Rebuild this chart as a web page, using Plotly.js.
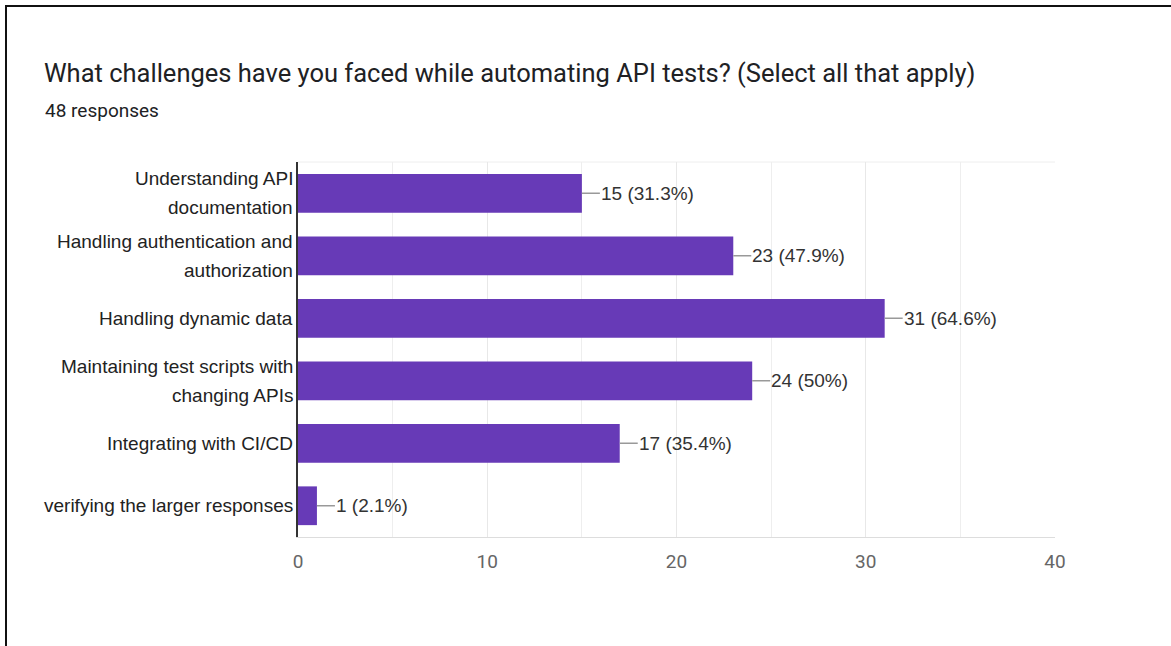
<!DOCTYPE html>
<html>
<head>
<meta charset="utf-8">
<script src="https://cdn.plot.ly/plotly-3.0.1.min.js"></script>
<style>
  html, body { margin: 0; padding: 0; background: #fff; }
  #wrap { position: relative; width: 1171px; height: 646px; overflow: hidden; }
  #chart { position: absolute; left: 0; top: 0; width: 1171px; height: 646px; }
  #frame { position: absolute; left: 5px; top: 5px; right: -4px; bottom: -4px;
           border-top: 2px solid #111; border-left: 2px solid #111; pointer-events: none; }
</style>
</head>
<body>
<div id="wrap">
  <div id="chart"></div>
  <div id="frame"></div>
</div>
<script>
// Survey question and response count
const questionTitle = "What challenges have you faced while automating API tests? (Select all that apply)";
const responseNote = "48 responses";

// Answer options (each entry holds the wrapped lines of one label)
const categories = [
  ["Understanding API", "documentation"],
  ["Handling authentication and", "authorization"],
  ["Handling dynamic data"],
  ["Maintaining test scripts with", "changing APIs"],
  ["Integrating with CI/CD"],
  ["verifying the larger responses"]
];
const counts = [15, 23, 31, 24, 17, 1];
const percents = ["31.3%", "47.9%", "64.6%", "50%", "35.4%", "2.1%"];

// X axis ticks
const tickValues = [0, 10, 20, 30, 40];
const tickLabels = ["0", "10", "20", "30", "40"];

const catKeys = categories.map(c => c.join(" "));
const barColor = "#673ab7";
const labelFont = { family: "Liberation Sans, Arial, sans-serif", size: 19, color: "#222222" };
const valueFont = { family: "Liberation Sans, Arial, sans-serif", size: 19, color: "#333333" };

const trace = {
  type: "bar",
  orientation: "h",
  x: counts,
  y: catKeys,
  marker: { color: barColor, line: { width: 0 } },
  hoverinfo: "x+y"
};

const annotations = [];
const shapes = [];
const lineGap = 29;

categories.forEach((lines, i) => {
  // category label, one annotation per wrapped line
  const n = lines.length;
  lines.forEach((txt, j) => {
    annotations.push({
      xref: "paper", yref: "y", x: 0, y: catKeys[i],
      text: txt, showarrow: false, xanchor: "right", yanchor: "middle",
      xshift: -3, yshift: ((n - 1) / 2 - j) * lineGap,
      font: labelFont
    });
  });
  // leader line from bar end to value label
  shapes.push({
    type: "line", xref: "x", yref: "y",
    xsizemode: "pixel", xanchor: counts[i], x0: 0, x1: 18,
    y0: catKeys[i], y1: catKeys[i],
    line: { color: "#999999", width: 1.5 }
  });
  annotations.push({
    xref: "x", yref: "y", x: counts[i], y: catKeys[i],
    text: counts[i] + " (" + percents[i] + ")",
    showarrow: false, xanchor: "left", yanchor: "middle", xshift: 17,
    font: valueFont
  });
});

annotations.push({
  xref: "paper", yref: "paper", x: 0, y: 1, xshift: 45 - 298 - 2, yshift: 162 - 110,
  text: responseNote, showarrow: false, xanchor: "left", yanchor: "middle",
  font: { family: "Roboto, sans-serif", size: 19, color: "#202124" }
});

const layout = {
  width: 1171, height: 646,
  margin: { l: 298, r: 116, t: 162, b: 109, pad: 0 },
  paper_bgcolor: "#ffffff", plot_bgcolor: "#ffffff",
  showlegend: false,
  bargap: 0.38,
  title: {
    text: questionTitle,
    xref: "container", yref: "container",
    x: 44 / 1171, xanchor: "left",
    y: 1 - 73 / 646, yanchor: "middle",
    font: { family: "Roboto, sans-serif", size: 25.5, color: "#202124" }
  },
  xaxis: {
    range: [0, 40],
    tickvals: tickValues, ticktext: tickLabels,
    showgrid: true, gridcolor: "#e8e8e8", gridwidth: 1,
    minor: { dtick: 5, showgrid: true, gridcolor: "#eeeeee", gridwidth: 1 },
    zeroline: false,
    showline: true, linecolor: "#dddddd", linewidth: 1, mirror: false,
    ticks: "", ticklen: 0,
    ticklabelstandoff: 7,
    tickfont: { family: "Roboto, sans-serif", size: 19, color: "#666666" },
    fixedrange: true
  },
  yaxis: {
    type: "category",
    autorange: "reversed",
    showticklabels: false,
    showgrid: false, zeroline: false,
    showline: true, linecolor: "#333333", linewidth: 2,
    ticks: "",
    fixedrange: true
  },
  annotations: annotations,
  shapes: shapes.concat([
    // light top edge of the plot area
    { type: "line", xref: "paper", yref: "paper", x0: 0, x1: 1, y0: 1, y1: 1,
      line: { color: "#eeeeee", width: 1 }, layer: "below" }
  ])
};

Plotly.newPlot("chart", [trace], layout, { displayModeBar: false, staticPlot: true });
</script>
</body>
</html>
